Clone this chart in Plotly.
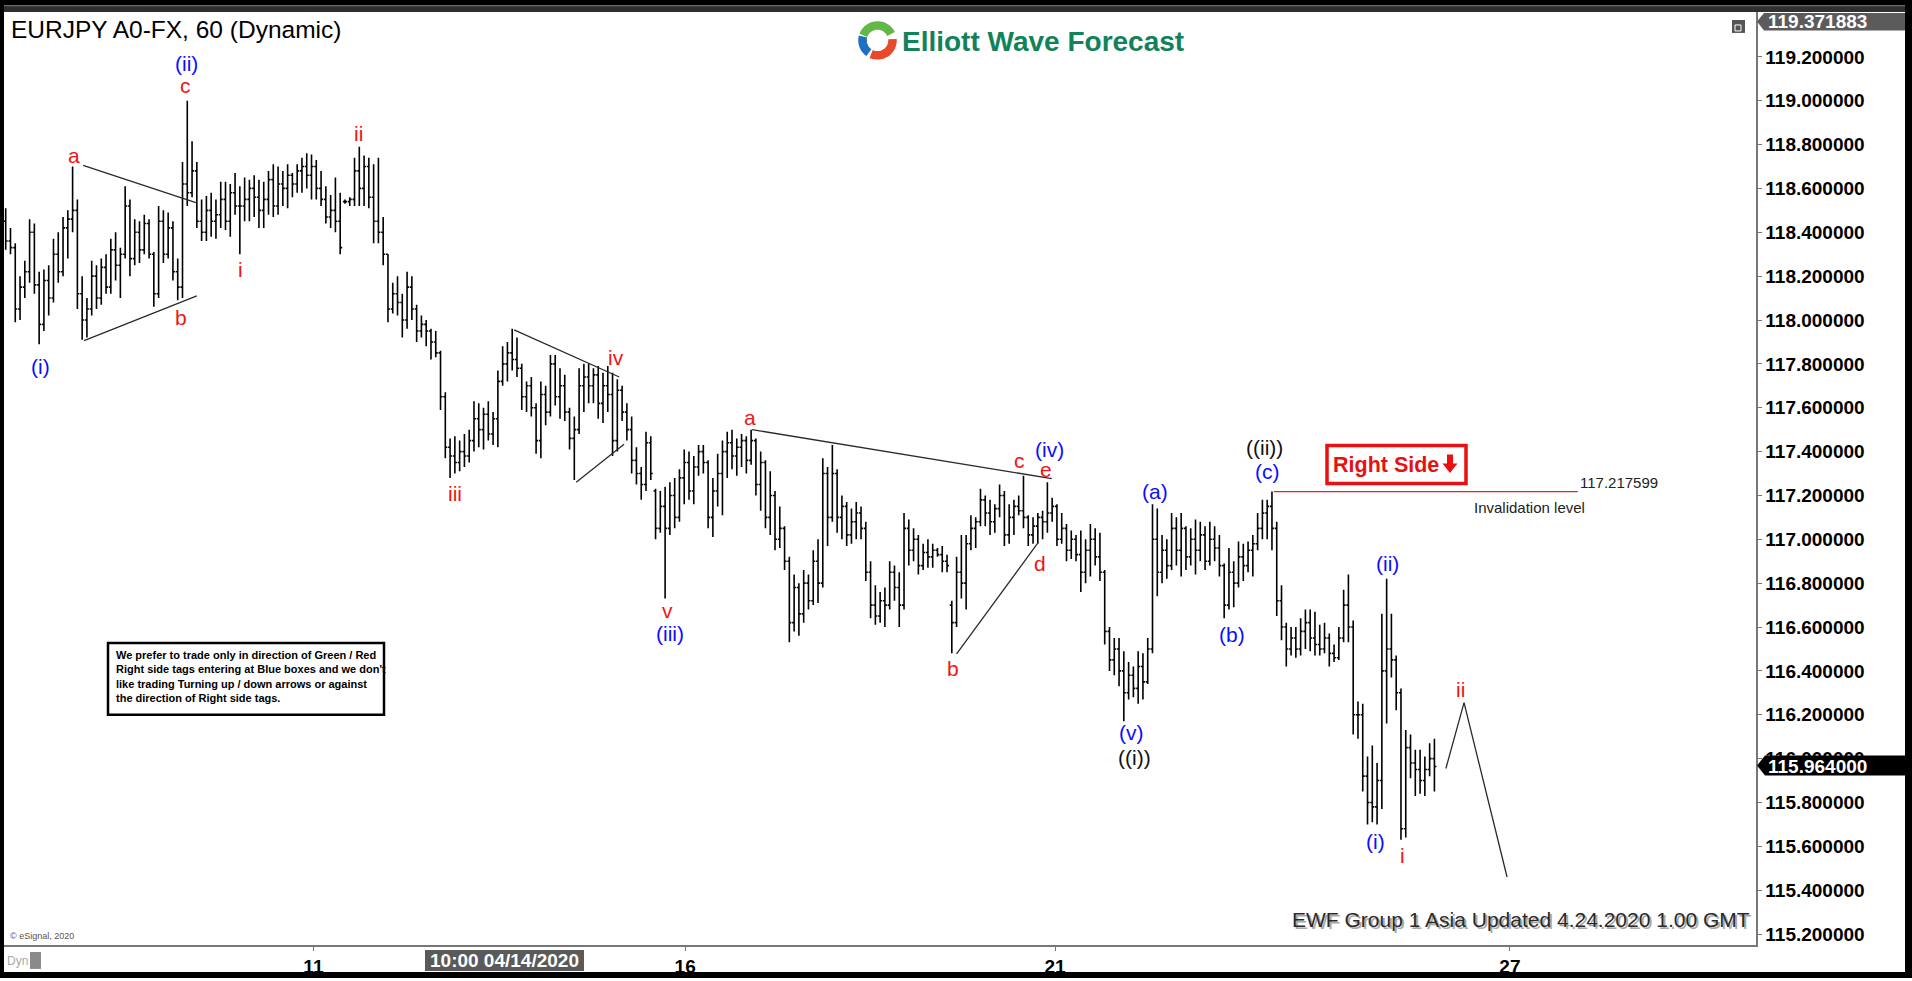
import math
import plotly.graph_objects as go

# ---------------- data (hourly EURJPY bars) ----------------
OPEN = [118.45,118.36,118.33,118.05,118.15,118.22,118.40,118.16,117.98,118.18,
        118.10,118.30,118.22,118.42,118.46,118.50,118.12,118.00,118.05,118.20,
        118.10,118.24,118.15,118.32,118.25,118.30,118.52,118.28,118.40,118.32,
        118.44,118.30,118.12,118.45,118.30,118.42,118.22,118.15,118.62,118.58,
        118.68,118.45,118.40,118.50,118.45,118.48,118.55,118.45,118.58,118.52,
        118.52,118.55,118.60,118.56,118.50,118.55,118.64,118.52,118.62,118.60,
        118.66,118.62,118.68,118.70,118.66,118.70,118.60,118.55,118.47,118.50,
        118.45,118.54,118.54,118.55,118.68,118.60,118.70,118.56,118.45,118.40,
        118.30,118.05,118.12,118.08,118.00,118.15,118.05,117.95,117.98,117.95,
        117.90,117.85,117.65,117.42,117.38,117.35,117.40,117.38,117.45,117.55,
        117.50,117.57,117.48,117.55,117.72,117.80,117.85,117.82,117.78,117.65,
        117.70,117.60,117.45,117.66,117.58,117.80,117.65,117.70,117.58,117.46,
        117.50,117.70,117.74,117.70,117.75,117.62,117.70,117.66,117.45,117.68,
        117.58,117.50,117.36,117.30,117.25,117.44,117.22,117.05,117.15,117.05,
        117.20,117.10,117.28,117.35,117.22,117.33,117.40,117.35,117.10,117.22,
        117.30,117.40,117.44,117.38,117.42,117.45,117.36,117.45,117.25,117.35,
        117.10,117.20,117.00,117.05,116.90,116.62,116.78,116.66,116.80,116.72,
        116.90,116.80,117.30,117.10,117.30,117.10,117.15,117.02,117.08,117.12,
        117.05,116.85,116.70,116.65,116.72,116.70,116.85,116.78,116.70,117.05,
        116.95,117.00,116.88,116.94,116.92,116.95,116.93,116.90,116.70,116.62,
        116.85,116.80,116.98,117.05,117.08,117.18,117.12,117.08,117.14,117.20,
        117.02,117.10,117.15,117.13,117.10,117.02,117.06,117.10,117.08,117.12,
        117.15,117.00,117.05,116.95,117.00,116.93,116.85,116.95,117.00,116.92,
        116.85,116.58,116.45,116.50,116.40,116.30,116.38,116.32,116.42,116.35,
        116.50,117.00,116.85,116.95,116.88,117.05,116.95,117.05,116.92,117.00,
        116.95,117.02,116.90,117.00,116.96,116.88,116.70,116.85,116.80,116.92,
        116.88,116.95,116.98,117.05,117.12,117.15,117.05,116.72,116.60,116.50,
        116.55,116.50,116.58,116.62,116.55,116.52,116.50,116.55,116.48,116.46,
        116.55,116.70,116.60,116.20,116.20,115.92,115.80,115.78,115.90,116.40,
        116.50,116.45,116.30,115.68,116.05,115.98,115.95,115.90,115.95,116.00]
HIGH = [118.51,118.42,118.35,118.20,118.27,118.46,118.44,118.22,118.23,118.25,
        118.37,118.40,118.47,118.50,118.70,118.55,118.20,118.10,118.27,118.25,
        118.28,118.30,118.37,118.40,118.33,118.61,118.55,118.46,118.45,118.48,
        118.46,118.31,118.52,118.50,118.49,118.45,118.28,118.72,119.00,118.815,
        118.72,118.55,118.565,118.58,118.55,118.63,118.63,118.62,118.67,118.61,
        118.65,118.64,118.66,118.64,118.63,118.68,118.71,118.70,118.68,118.71,
        118.67,118.71,118.74,118.76,118.755,118.73,118.68,118.61,118.57,118.65,
        118.58,118.55,118.56,118.74,118.79,118.75,118.74,118.71,118.74,118.47,
        118.30,118.17,118.20,118.12,118.22,118.20,118.07,118.02,118.00,117.96,
        117.95,117.86,117.67,117.46,117.47,117.45,117.48,117.50,117.63,117.62,
        117.60,117.63,117.58,117.77,117.88,117.90,117.96,117.92,117.80,117.72,
        117.74,117.62,117.72,117.70,117.84,117.84,117.78,117.75,117.60,117.56,
        117.78,117.80,117.80,117.78,117.79,117.76,117.79,117.76,117.73,117.70,
        117.62,117.56,117.42,117.33,117.49,117.47,117.23,117.22,117.24,117.26,
        117.28,117.32,117.41,117.40,117.38,117.43,117.43,117.36,117.28,117.39,
        117.45,117.49,117.50,117.46,117.48,117.47,117.50,117.46,117.40,117.36,
        117.31,117.22,117.15,117.06,116.92,116.84,116.80,116.86,116.84,116.95,
        117.00,117.37,117.33,117.43,117.32,117.20,117.17,117.14,117.17,117.15,
        117.08,116.90,116.79,116.76,116.78,116.90,116.88,116.85,117.12,117.09,
        117.05,117.02,116.98,117.00,116.98,116.96,116.97,116.93,116.72,116.92,
        117.02,117.02,117.11,117.10,117.23,117.20,117.18,117.16,117.25,117.22,
        117.16,117.18,117.20,117.29,117.11,117.10,117.12,117.13,117.26,117.19,
        117.16,117.12,117.07,117.04,117.02,117.04,117.00,117.07,117.05,117.03,
        116.86,116.60,116.55,116.55,116.49,116.44,116.42,116.49,116.48,116.55,
        117.16,117.14,117.02,117.00,117.12,117.10,117.12,117.06,117.05,117.09,
        117.08,117.06,117.08,117.06,117.02,116.89,116.96,116.90,116.99,116.98,
        116.99,117.02,117.12,117.18,117.18,117.2176,117.08,116.79,116.62,116.60,
        116.60,116.64,116.68,116.68,116.67,116.61,116.62,116.57,116.52,116.60,
        116.77,116.84,116.63,116.26,116.25,116.01,116.06,115.98,116.66,116.82,
        116.66,116.47,116.32,116.13,116.11,116.04,116.04,116.01,116.07,116.09]
LOW = [118.32,118.30,117.99,118.00,118.10,118.17,118.12,117.89,117.95,118.02,
       118.08,118.17,118.20,118.28,118.40,118.05,117.91,117.92,118.02,118.05,
       118.07,118.12,118.12,118.18,118.10,118.28,118.20,118.25,118.26,118.30,
       118.28,118.06,118.10,118.26,118.28,118.18,118.09,118.10,118.52,118.56,
       118.42,118.36,118.36,118.38,118.37,118.42,118.41,118.38,118.48,118.30,
       118.45,118.45,118.47,118.42,118.42,118.48,118.47,118.48,118.52,118.51,
       118.56,118.58,118.58,118.60,118.55,118.55,118.52,118.44,118.42,118.40,
       118.30,118.53,118.52,118.52,118.52,118.52,118.51,118.35,118.35,118.25,
       117.99,118.03,118.02,117.92,117.96,118.00,117.90,117.92,117.88,117.82,
       117.83,117.59,117.37,117.28,117.30,117.31,117.33,117.35,117.40,117.42,
       117.41,117.45,117.43,117.42,117.70,117.72,117.77,117.74,117.59,117.58,
       117.56,117.39,117.37,117.52,117.56,117.61,117.55,117.54,117.41,117.27,
       117.48,117.58,117.62,117.62,117.55,117.53,117.58,117.38,117.40,117.54,
       117.45,117.30,117.25,117.18,117.22,117.27,117.00,117.03,116.73,117.02,
       117.05,117.08,117.16,117.18,117.16,117.29,117.30,117.05,117.01,117.15,
       117.11,117.28,117.32,117.29,117.33,117.30,117.34,117.20,117.13,117.05,
       117.02,116.95,116.96,116.86,116.53,116.58,116.56,116.62,116.68,116.70,
       116.71,116.78,116.97,117.08,117.03,117.00,116.97,116.98,117.00,117.00,
       116.81,116.64,116.61,116.62,116.60,116.68,116.72,116.60,116.68,116.88,
       116.90,116.84,116.86,116.87,116.87,116.92,116.85,116.85,116.48,116.60,
       116.73,116.68,116.95,116.96,117.06,117.06,117.02,117.03,117.10,116.97,
       116.98,117.02,117.11,117.05,116.97,116.98,116.98,117.00,117.03,117.08,
       116.97,116.98,116.90,116.91,116.90,116.76,116.80,116.83,116.88,116.81,
       116.52,116.40,116.38,116.33,116.17,116.27,116.28,116.25,116.27,116.34,
       116.48,116.74,116.80,116.82,116.86,116.88,116.83,116.86,116.88,116.84,
       116.90,116.86,116.88,116.90,116.83,116.64,116.68,116.69,116.78,116.81,
       116.85,116.83,116.95,117.00,117.00,116.95,116.65,116.54,116.42,116.47,
       116.46,116.47,116.50,116.49,116.47,116.47,116.48,116.42,116.44,116.45,
       116.53,116.53,116.11,116.09,115.85,115.70,115.71,115.70,115.77,116.16,
       116.37,116.22,115.63,115.64,115.91,115.83,115.84,115.83,115.92,115.85]
CLOSE = [118.36,118.33,118.05,118.15,118.22,118.40,118.16,117.98,118.18,118.10,
         118.30,118.22,118.42,118.46,118.50,118.12,118.00,118.05,118.20,118.10,
         118.24,118.15,118.32,118.25,118.30,118.52,118.28,118.40,118.32,118.44,
         118.30,118.12,118.45,118.30,118.42,118.22,118.15,118.62,118.58,118.68,
         118.45,118.40,118.50,118.45,118.48,118.55,118.45,118.58,118.52,118.52,
         118.55,118.60,118.56,118.50,118.55,118.64,118.52,118.62,118.60,118.66,
         118.62,118.68,118.70,118.66,118.70,118.60,118.55,118.47,118.50,118.45,
         118.33,118.54,118.55,118.68,118.60,118.70,118.56,118.45,118.40,118.30,
         118.05,118.12,118.08,118.00,118.15,118.05,117.95,117.98,117.95,117.90,
         117.85,117.65,117.42,117.38,117.35,117.40,117.38,117.45,117.55,117.50,
         117.57,117.48,117.55,117.72,117.80,117.85,117.82,117.78,117.65,117.70,
         117.60,117.45,117.66,117.58,117.80,117.65,117.70,117.58,117.46,117.50,
         117.70,117.74,117.70,117.75,117.62,117.70,117.66,117.45,117.68,117.58,
         117.50,117.36,117.30,117.25,117.44,117.30,117.05,117.15,117.05,117.20,
         117.10,117.28,117.35,117.22,117.33,117.40,117.35,117.10,117.22,117.30,
         117.40,117.44,117.38,117.42,117.45,117.36,117.45,117.25,117.35,117.10,
         117.20,117.00,117.05,116.90,116.62,116.78,116.66,116.80,116.72,116.90,
         116.80,117.30,117.10,117.30,117.10,117.15,117.02,117.08,117.12,117.05,
         116.85,116.70,116.65,116.72,116.70,116.85,116.78,116.70,117.05,116.95,
         117.00,116.88,116.94,116.92,116.95,116.93,116.90,116.88,116.62,116.85,
         116.80,116.98,117.05,117.08,117.18,117.12,117.08,117.14,117.20,117.02,
         117.10,117.15,117.13,117.10,117.02,117.06,117.10,117.08,117.12,117.15,
         117.00,117.05,116.95,117.00,116.93,116.85,116.95,117.00,116.92,116.85,
         116.58,116.45,116.50,116.40,116.30,116.38,116.32,116.42,116.35,116.50,
         117.00,116.85,116.95,116.88,117.05,116.95,117.05,116.92,117.00,116.95,
         117.02,116.90,117.00,116.96,116.88,116.70,116.85,116.80,116.92,116.88,
         116.95,116.98,117.05,117.12,117.15,117.05,116.72,116.60,116.50,116.55,
         116.50,116.58,116.62,116.55,116.52,116.50,116.55,116.48,116.46,116.55,
         116.70,116.60,116.20,116.20,115.92,115.80,115.78,115.90,116.40,116.50,
         116.45,116.30,115.68,116.05,115.98,115.95,115.90,115.95,116.00,115.964]
BAR_INDEX = list(range(len(OPEN)))

X_TICK_POS = [64.4, 142.2, 219.6, 314.8]
X_TICK_TEXT = ["11", "16", "21", "27"]
Y_TICKS = [115.2, 115.4, 115.6, 115.8, 116.0, 116.2, 116.4, 116.6, 116.8, 117.0,
           117.2, 117.4, 117.6, 117.8, 118.0, 118.2, 118.4, 118.6, 118.8, 119.0, 119.2]

LABEL_TEXT = ["(ii)", "c", "a", "b", "i", "ii", "(i)", "iii", "iv", "v", "(iii)",
              "a", "c", "(iv)", "e", "d", "b", "(v)", "((i))", "(a)", "(b)",
              "((ii))", "(c)", "(ii)", "(i)", "i", "ii"]
LABEL_BAR = [37.9, 37.7, 14.2, 36.7, 49.2, 73.8, 7.3, 94.0, 127.8, 138.6, 139.1,
             155.8, 212.2, 218.4, 217.7, 216.5, 198.2, 235.5, 236.2, 240.5, 256.6,
             263.5, 264.1, 289.2, 286.6, 292.3, 304.5]
LABEL_PRICE = [119.17, 119.07, 118.75, 118.01, 118.23, 118.85, 117.79, 117.21, 117.83,
               116.675, 116.57, 117.555, 117.36, 117.41, 117.32, 116.89, 116.41, 116.12,
               116.005, 117.22, 116.565, 117.42, 117.31, 116.89, 115.62, 115.56, 116.315]
LABEL_KIND = ["blue", "red", "red", "red", "red", "red", "blue", "red", "red", "red", "blue",
              "red", "red", "blue", "red", "red", "red", "blue", "black", "blue", "blue",
              "black", "blue", "blue", "blue", "red", "red"]

TREND_X0 = [16.2, 16.4, 106.4, 119.4, 156.2, 199.0]
TREND_Y0 = [118.705, 117.906, 117.955, 117.26, 117.50, 116.477]
TREND_X1 = [39.8, 40.0, 128.4, 129.4, 218.9, 215.9]
TREND_Y1 = [118.535, 118.11, 117.74, 117.433, 117.277, 116.98]

PROJ_X = [301.4, 305.2, 314.2]
PROJ_Y = [115.955, 116.255, 115.46]

INVALIDATION = 117.217599
INV_X = [265.4, 329.0]
LAST_PRICE = 115.964
TOP_PRICE = 119.371883

Y_RANGE = [115.15, 119.4045]
X_RANGE = [-0.356, 366.3]

# ---------------- layout geometry (pixels) ----------------
W, H = 1912, 981
ML, MR, MT, MB = 4, 156, 12, 33
PW, PH = W - ML - MR, H - MT - MB


def PX(x):
    return (x - ML) / PW


def PY(y):
    return (H - MB - y) / PH


def rect(x0, y0, x1, y1, fill=None, line=None, lw=0, layer="above"):
    d = dict(type="rect", xref="paper", yref="paper", x0=PX(x0), x1=PX(x1),
             y0=PY(y1), y1=PY(y0), layer=layer, line=dict(width=lw, color=line or "rgba(0,0,0,0)"))
    if fill:
        d["fillcolor"] = fill
    return d


def poly(points, fill=None, line=None, lw=0, closed=True):
    p = "M" + " L".join(f"{PX(x):.6f},{PY(y):.6f}" for x, y in points)
    if closed:
        p += " Z"
    d = dict(type="path", xref="paper", yref="paper", path=p, layer="above",
             line=dict(width=lw, color=line or "rgba(0,0,0,0)"))
    if fill:
        d["fillcolor"] = fill
    return d


def text(x, y, s, size, color="#000", bold=False, xanchor="left", family="Liberation Sans, Arial, sans-serif"):
    return dict(xref="paper", yref="paper", x=PX(x), y=PY(y), text=s, showarrow=False,
                xanchor=xanchor, yanchor="middle",
                font=dict(family=family, size=size, color=color, weight=700 if bold else 400))


COLORS = {"blue": "#0d0dff", "red": "#f01414", "black": "#111111"}

fig = go.Figure()
fig.add_trace(go.Ohlc(
    x=BAR_INDEX, open=OPEN, high=HIGH, low=LOW, close=CLOSE,
    increasing=dict(line=dict(color="#000000", width=1.6)),
    decreasing=dict(line=dict(color="#000000", width=1.6)),
    tickwidth=0.42, hoverinfo="skip", showlegend=False))

tx, ty = [], []
for a, b, c, d in zip(TREND_X0, TREND_Y0, TREND_X1, TREND_Y1):
    tx += [a, c, None]
    ty += [b, d, None]
fig.add_trace(go.Scatter(x=tx, y=ty, mode="lines", line=dict(color="#2a2a2a", width=1.3),
                         hoverinfo="skip", showlegend=False))
fig.add_trace(go.Scatter(x=PROJ_X, y=PROJ_Y, mode="lines", line=dict(color="#2a2a2a", width=1.3),
                         hoverinfo="skip", showlegend=False))
fig.add_trace(go.Scatter(x=INV_X, y=[INVALIDATION, INVALIDATION], mode="lines",
                         line=dict(color="#e82020", width=1.2), hoverinfo="skip", showlegend=False))

annotations = []
for t, bx, pr, k in zip(LABEL_TEXT, LABEL_BAR, LABEL_PRICE, LABEL_KIND):
    annotations.append(dict(x=bx, y=pr, xref="x", yref="y", text=t, showarrow=False,
                            font=dict(family="Liberation Sans, Arial, sans-serif", size=21,
                                      color=COLORS[k])))

shapes = []
# frame
shapes.append(rect(0, 0, W, 5, fill="#000000"))
shapes.append(rect(0, 5, W, 12, fill="#2f2f2f"))
shapes.append(rect(0, 5, W, 6.2, fill="#6b6b6b"))
shapes.append(rect(0, 0, 4, H, fill="#000000"))
shapes.append(rect(1905, 0, W, H, fill="#000000"))
shapes.append(rect(0, 975, W, H, fill="#000000"))

# logo
cx, cy, r = 877.5, 40.5, 15
for col, a0, a1 in [("#62b846", -160, -25), ("#e9482b", -5, 115), ("#1f6fc4", 125, 195)]:
    pts = [(cx + r * math.cos(math.radians(a0 + (a1 - a0) * k / 24)),
            cy + r * math.sin(math.radians(a0 + (a1 - a0) * k / 24))) for k in range(25)]
    shapes.append(poly(pts, line=col, lw=8.5, closed=False))
annotations.append(text(900, 42, "Elliott Wave Forecast", 28, color="#12825a", bold=True))

# title
annotations.append(text(9, 30, "EURJPY A0-FX, 60 (Dynamic)", 24.5, color="#000"))

# small window icon
shapes.append(rect(1732, 20, 1745, 33, fill="#555555"))
shapes.append(rect(1735, 25, 1741, 31, fill="#555555", line="#ffffff", lw=1))

# price tags
shapes.append(poly([(1757, 21.5), (1764, 13), (1905, 13), (1905, 30.5), (1764, 30.5)], fill="#5b5b5b"))
annotations.append(text(1766, 22, f"{TOP_PRICE:.6f}", 19, color="#ffffff", bold=True))
shapes.append(poly([(1757, 768), (1765, 758), (1905, 758), (1905, 778), (1765, 778)], fill="#000000"))
annotations.append(text(1766, 768.5, f"{LAST_PRICE:.6f}", 19, color="#ffffff", bold=True))

# Right side tag
shapes.append(rect(1327, 447, 1466, 485, fill="#ffffff", line="#e81010", lw=3.5))
annotations.append(text(1331, 466, "Right Side", 21.5, color="#e81010", bold=True))
shapes.append(poly([(1447, 456), (1453, 456), (1453, 465), (1457.5, 465), (1450, 474.5),
                    (1442.5, 465), (1447, 465)], fill="#e81010"))
annotations.append(text(1578, 484, f"{INVALIDATION:.6f}", 15, color="#222"))
annotations.append(text(1472, 509, "Invalidation level", 15, color="#222"))

# disclaimer box
shapes.append(rect(108, 645, 384, 717, fill="#ffffff", line="#000000", lw=2.5))
annotations.append(dict(xref="paper", yref="paper", x=PX(114), y=PY(649), xanchor="left", yanchor="top",
                        showarrow=False, align="left",
                        text=("We prefer to trade only in direction of Green / Red<br>"
                              "Right side tags entering at Blue boxes and we don't<br>"
                              "like trading Turning up / down arrows or against<br>"
                              "the direction of Right side tags."),
                        font=dict(family="Liberation Sans Narrow, Arial Narrow, Liberation Sans, sans-serif",
                                  size=11, color="#000", weight=700)))

# update stamp with shadow
annotations.append(text(1292, 924, "EWF Group 1 Asia Updated 4.24.2020 1.00 GMT", 21, color="#a8a8a8"))
annotations.append(text(1290, 922, "EWF Group 1 Asia Updated 4.24.2020 1.00 GMT", 21, color="#2a2a2a"))

# crosshair date tag
shapes.append(rect(425, 953, 584, 974, fill="#5a5a5a"))
annotations.append(text(504.5, 964, "10:00 04/14/2020", 19, color="#ffffff", bold=True, xanchor="center"))

# bottom-left bits
annotations.append(text(8, 939, "\u00a9 eSignal, 2020", 9, color="#555"))
annotations.append(text(5, 964, "Dyn", 12, color="#aaaaaa"))
shapes.append(rect(30, 955, 41, 972, fill="#8a8a8a"))

fig.update_layout(
    width=W, height=H,
    margin=dict(l=ML, r=MR, t=MT, b=MB, pad=0),
    paper_bgcolor="#ffffff", plot_bgcolor="#ffffff",
    hovermode=False, showlegend=False,
    xaxis=dict(range=X_RANGE, tickvals=X_TICK_POS, ticktext=X_TICK_TEXT, ticks="outside",
               ticklen=4, tickcolor="#777", showline=True, linecolor="#777", linewidth=1.5,
               showgrid=False, zeroline=False, fixedrange=True,
               tickfont=dict(family="Liberation Sans, Arial, sans-serif", size=19, color="#000", weight=700),
               rangeslider=dict(visible=False)),
    yaxis=dict(range=Y_RANGE, side="right", tickvals=Y_TICKS, tickformat=".6f", ticks="outside",
               ticklen=4, tickcolor="#777", showline=True, linecolor="#777", linewidth=1.5,
               showgrid=False, zeroline=False, fixedrange=True,
               tickfont=dict(family="Liberation Sans, Arial, sans-serif", size=19, color="#000", weight=700)),
    shapes=shapes, annotations=annotations,
)

fig.write_html("out.html", config={"displayModeBar": False, "staticPlot": True},
               post_script="document.body.style.margin='0px';document.body.style.overflow='hidden';")
